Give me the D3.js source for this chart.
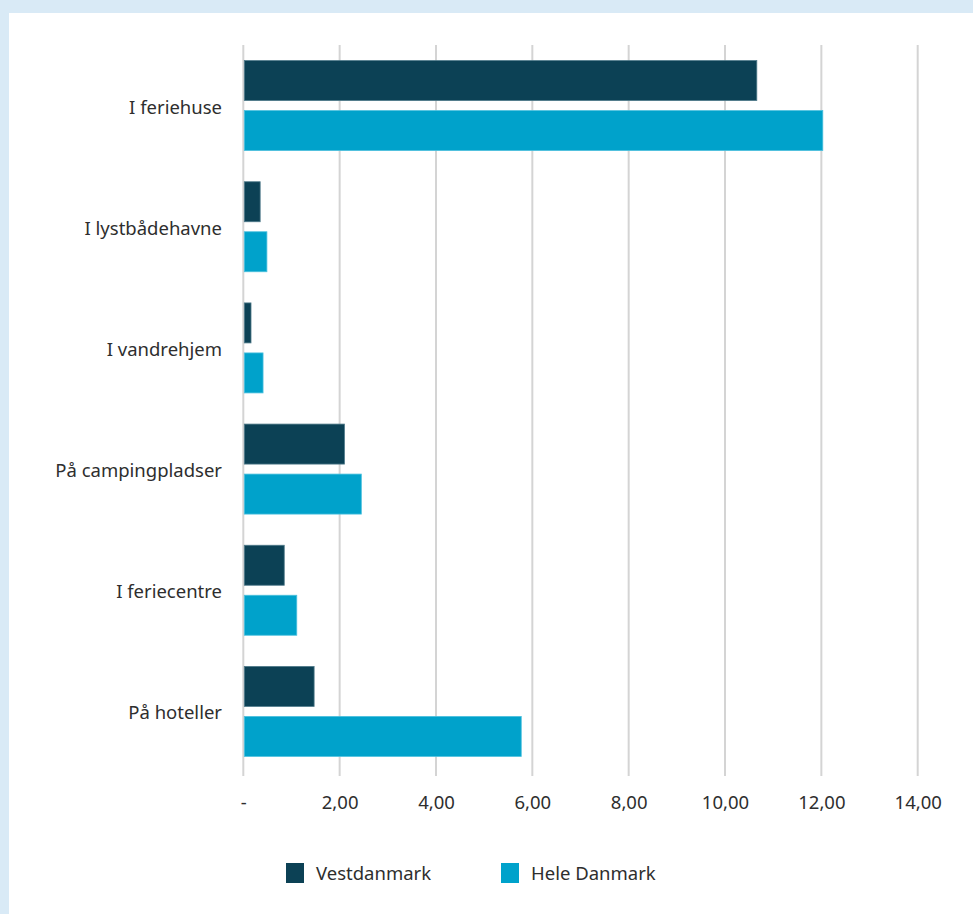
<!DOCTYPE html>
<html><head><meta charset="utf-8">
<script src="https://cdn.jsdelivr.net/npm/d3@7"></script>
<style>
html,body{margin:0;padding:0;background:#d9eaf6;}
svg{display:block;}
</style></head>
<body>
<svg id="chart" width="973" height="914"></svg>
<script>
const categories = ["I feriehuse","I lystbådehavne","I vandrehjem","På campingpladser","I feriecentre","På hoteller"];
const seriesNames = ["Vestdanmark","Hele Danmark"];
const vestdanmark = [10.66, 0.35, 0.16, 2.10, 0.85, 1.47];
const heleDanmark = [12.03, 0.49, 0.41, 2.45, 1.11, 5.77];
const tickValues = [0,2,4,6,8,10,12,14];
const tickLabels = ["-","2,00","4,00","6,00","8,00","10,00","12,00","14,00"];
const colors = ["#0c4155","#00a2cb"];
const strokes = ["#4f7a8a","#4cc0de"];

const svg = d3.select("#chart");
const font = "'Noto Sans', 'Open Sans', sans-serif";
const fs = 18.5;
const txt = "#2e2e2e";

// background panel
svg.append("rect").attr("x",0).attr("y",0).attr("width",973).attr("height",914).attr("fill","#d9eaf6");
svg.append("rect").attr("x",9).attr("y",13).attr("width",964).attr("height",901).attr("fill","#ffffff");

const x = d3.scaleLinear().domain([0,14]).range([243.3, 917.7]);
const y = d3.scaleBand().domain(categories).range([45,772]).padding(0);
const bw = y.bandwidth();
const yi = d3.scaleBand().domain(seriesNames).range([bw/2-45, bw/2+45]).paddingInner(0.2);

// gridlines
svg.append("g").selectAll("line").data(tickValues).join("line")
  .attr("x1",d=>x(d)).attr("x2",d=>x(d))
  .attr("y1",45).attr("y2",776)
  .attr("stroke","#d4d4d4").attr("stroke-width",2);

// x axis labels
const xAxis = d3.axisBottom(x).tickValues(tickValues).tickFormat((d,i)=>tickLabels[i]).tickSize(0).tickPadding(0);
const gx = svg.append("g").attr("transform","translate(0,796)").call(xAxis);
gx.select(".domain").remove();
gx.selectAll("text").attr("font-family",font).attr("font-size",fs).attr("fill",txt).attr("dy","0.71em");

// y axis labels
const yAxis = d3.axisLeft(y).tickSize(0).tickPadding(0);
const gy = svg.append("g").attr("transform","translate(222,2)").call(yAxis);
gy.select(".domain").remove();
gy.selectAll("text").attr("font-family",font).attr("font-size",fs).attr("fill",txt);

// bars
const data = categories.map((c,i)=>({cat:c, vals:[vestdanmark[i], heleDanmark[i]]}));
const groups = svg.append("g").selectAll("g").data(data).join("g")
  .attr("transform",d=>`translate(0,${y(d.cat)})`);
groups.selectAll("rect").data(d=>d.vals.map((v,j)=>({v, s:seriesNames[j], j}))).join("rect")
  .attr("x",x(0)+1)
  .attr("y",d=>yi(d.s))
  .attr("width",d=>x(d.v)-x(0)-1)
  .attr("height",yi.bandwidth())
  .attr("fill",d=>colors[d.j])
  .attr("stroke",d=>strokes[d.j]).attr("stroke-width",0.8);

// legend
const legendX = [286, 501];
const lg = svg.append("g").selectAll("g").data(seriesNames).join("g")
  .attr("transform",(d,i)=>`translate(${legendX[i]},863)`);
lg.append("rect").attr("width",18).attr("height",20).attr("fill",(d,i)=>colors[i]);
lg.append("text").attr("x",30).attr("y",11).attr("dy","0.35em")
  .attr("font-family",font).attr("font-size",fs).attr("fill",txt).text(d=>d);
</script>
</body></html>
